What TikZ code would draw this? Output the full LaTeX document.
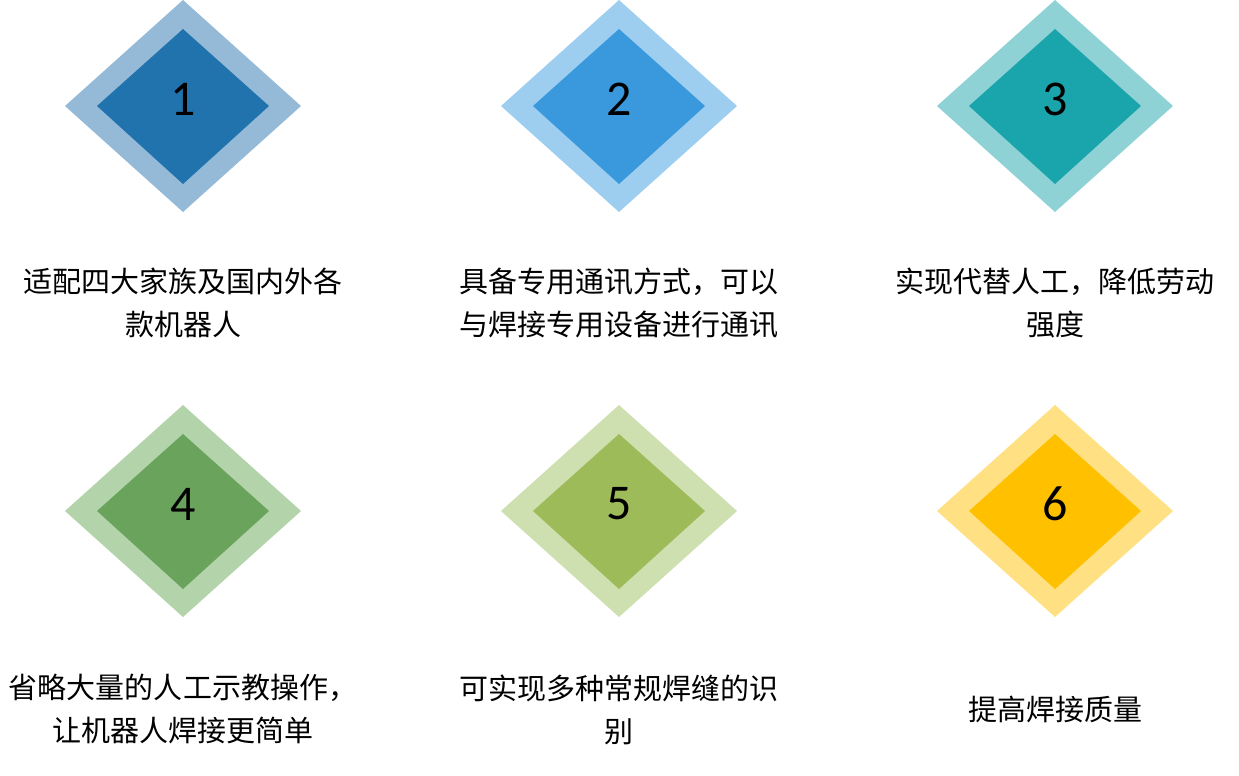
\documentclass[tikz,border=0pt]{standalone}
\usepackage{fontspec}
\setmainfont{Carlito}
\newfontfamily\cjk{Noto Sans CJK SC}
\definecolor{outerA}{HTML}{94BAD8}\definecolor{innerA}{HTML}{2173AE}
\definecolor{outerB}{HTML}{9DCEF0}\definecolor{innerB}{HTML}{3999DC}
\definecolor{outerC}{HTML}{8FD2D6}\definecolor{innerC}{HTML}{1AA5AC}
\definecolor{outerD}{HTML}{B3D3AA}\definecolor{innerD}{HTML}{6AA35C}
\definecolor{outerE}{HTML}{CEDFB0}\definecolor{innerE}{HTML}{9DBB59}
\definecolor{outerF}{HTML}{FFE082}\definecolor{innerF}{HTML}{FFC000}
\begin{document}
\begin{tikzpicture}[x=1pt,y=-1pt,
 num/.style={font=\fontsize{50}{50}\selectfont,inner sep=0pt},
 caption/.style={font=\cjk\fontsize{29}{43}\selectfont,align=center,inner sep=0pt}]
 \useasboundingbox (0,0) rectangle (1239,776);
 % row 1
 \fill[outerA](183,0)--(301,106)--(183,212)--(65,106)--cycle;
 \fill[innerA](183,29)--(269,106)--(183,184)--(97,106)--cycle;
 \fill[outerB](619,0)--(737,106)--(619,212)--(501,106)--cycle;
 \fill[innerB](619,29)--(705,106)--(619,184)--(533,106)--cycle;
 \fill[outerC](1055,0)--(1173,106)--(1055,212)--(937,106)--cycle;
 \fill[innerC](1055,29)--(1141,106)--(1055,184)--(969,106)--cycle;
 % row 2
 \fill[outerD](183,405)--(301,511)--(183,617)--(65,511)--cycle;
 \fill[innerD](183,434)--(269,511)--(183,589)--(97,511)--cycle;
 \fill[outerE](619,405)--(737,511)--(619,617)--(501,511)--cycle;
 \fill[innerE](619,434)--(705,511)--(619,589)--(533,511)--cycle;
 \fill[outerF](1055,405)--(1173,511)--(1055,617)--(937,511)--cycle;
 \fill[innerF](1055,434)--(1141,511)--(1055,589)--(969,511)--cycle;
 % numbers
 \node[num] (n1) at (183,99) {1};
 \node[num] (n2) at (619,99) {2};
 \node[num] (n3) at (1055,99) {3};
 \node[num] (n4) at (183,504) {4};
 \node[num] (n5) at (619,504) {5};
 \node[num] (n6) at (1055,504) {6};
 % captions
 \node[caption] (t1) at (183,303) {适配四大家族及国内外各\\款机器人};
 \node[caption] (t2) at (619,303) {具备专用通讯方式，可以\\与焊接专用设备进行通讯};
 \node[caption] (t3) at (1055,303) {实现代替人工，降低劳动\\强度};
 \node[caption] (t4) at (183,709) {省略大量的人工示教操作，\\让机器人焊接更简单};
 \node[caption] (t5) at (619,710) {可实现多种常规焊缝的识\\别};
 \node[caption] (t6) at (1055,709) {提高焊接质量};
\end{tikzpicture}
\end{document}
